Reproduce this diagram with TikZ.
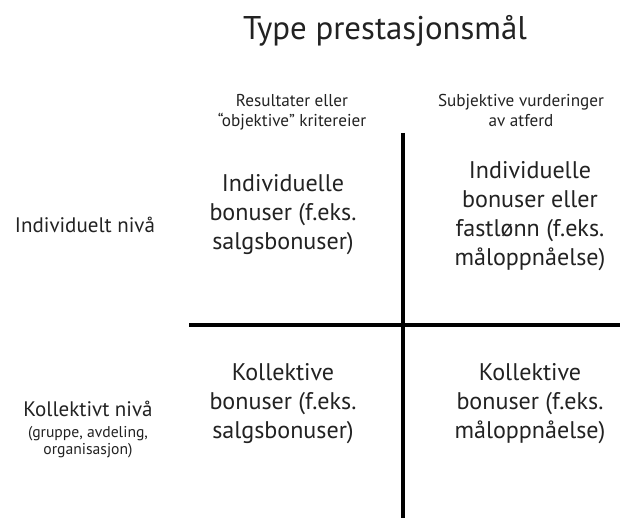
\documentclass[tikz,border=0pt]{standalone}
\usepackage{fontspec}
\setmainfont{PT Sans}
\definecolor{ink}{HTML}{222222}
\newlength\probewd
% size (pt) at which a sample line has the given width
\newcommand\sizefor[3]{%
  \settowidth\probewd{\fontsize{10}{12}\selectfont #3}%
  \pgfmathsetmacro#1{10*#2/\probewd}}
\begin{document}
\sizefor\titlesize{284}{Type prestasjonsmål}%
\sizefor\headsize{166}{Subjektive vurderinger}%
\sizefor\rowsize{140}{Individuelt nivå}%
\sizefor\notesize{120}{(gruppe, avdeling,}%
\sizefor\cellsize{147}{bonuser (f.eks.}%
\begin{tikzpicture}[x=1pt,y=-1pt,
  txt/.style={text=ink, inner sep=0pt, align=center},
  title/.style={txt, anchor=base, font=\fontsize{\titlesize}{\titlesize}\selectfont},
  colhead/.style={txt, anchor=base, font=\fontsize{\headsize}{20}\selectfont},
  cell/.style={txt, font=\fontsize{\cellsize}{29}\selectfont},
  rowhead/.style={txt, anchor=base, font=\fontsize{\rowsize}{\rowsize}\selectfont},
  rownote/.style={txt, anchor=base, font=\fontsize{\notesize}{\notesize}\selectfont},
  axis/.style={line width=4.5pt, black}]
\useasboundingbox[fill=white] (0,0) rectangle (630,518);

% heading and column labels
\node[title] (t) at (385,40) {Type prestasjonsmål};
\node[colhead] (c1a) at (292,107) {Resultater eller};
\node[colhead] (c1b) at (292,127) {“objektive” kritereier};
\node[colhead] (c2a) at (521,107) {Subjektive vurderinger};
\node[colhead] (c2b) at (521,127) {av atferd};

% quadrant axes
\coordinate (vtop) at (403,133);
\coordinate (vbot) at (403,518);
\coordinate (hl) at (189,325);
\coordinate (hr) at (620,325);
\draw[axis] (vtop) -- (vbot);
\draw[axis] (hl) -- (hr);

% row labels
\node[rowhead] (r1) at (85,233) {Individuelt nivå};
\node[rowhead] (r2) at (88,417) {Kollektivt nivå};
\node[rownote] (r2a) at (88,438) {(gruppe, avdeling,};
\node[rownote] (r2b) at (88,455) {organisasjon)};

% quadrant texts
\node[cell] (q11) at (283,215) {Individuelle\\bonuser (f.eks.\\salgsbonuser)};
\node[cell] (q12) at (530,216) {Individuelle\\bonuser eller\\fastlønn (f.eks.\\måloppnåelse)};
\node[cell] (q21) at (283,404) {Kollektive\\bonuser (f.eks.\\salgsbonuser)};
\node[cell] (q22) at (530,404) {Kollektive\\bonuser (f.eks.\\måloppnåelse)};
\end{tikzpicture}
\end{document}
